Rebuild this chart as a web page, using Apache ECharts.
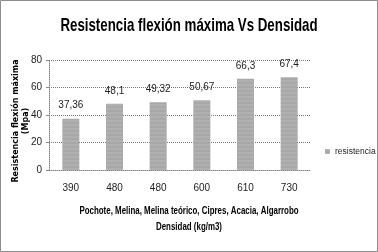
<!DOCTYPE html>
<html><head><meta charset="utf-8">
<script src="https://cdn.jsdelivr.net/npm/echarts@6/dist/echarts.min.js"></script>
<style>html,body{margin:0;padding:0;background:#fff}#c{width:378px;height:252px}</style>
</head><body><div id="c"></div>
<script>
const categories = ['390','480','480','600','610','730'];
const values = [37.36, 48.1, 49.32, 50.67, 66.3, 67.4];
const valueLabels = ['37,36','48,1','49,32','50,67','66,3','67,4'];
const yTicks = [0, 20, 40, 60, 80];
const seriesName = 'resistencia';
const titleText = 'Resistencia flexión máxima Vs Densidad';
const xTitleLines = ['Pochote, Melina, Melina teórico, Cipres, Acacia, Algarrobo', 'Densidad (kg/m3)'];
const yTitleLines = ['Resistencia flexión máxima', '(Mpa)'];

const font = '"Liberation Sans", sans-serif';
const chart = echarts.init(document.getElementById('c'), null, {renderer: 'canvas'});
chart.setOption({
  animation: false,
  backgroundColor: '#fff',
  graphic: {elements: [
    {type: 'rect', shape: {x: 0.5, y: 0.5, width: 377, height: 251}, style: {fill: 'none', stroke: '#8c8c8c', lineWidth: 1}},
    {type: 'text', x: 189, y: 26, scaleX: 0.7, style: {text: titleText, x: 0, y: 0, align: 'center', verticalAlign: 'middle',
      font: 'bold 19px "Liberation Sans", sans-serif', fill: '#000'}},
    {type: 'text', x: 189, y: 211, scaleX: 0.72, style: {text: xTitleLines[0], x: 0, y: 0, align: 'center', verticalAlign: 'middle',
      font: 'bold 11px "Liberation Sans", sans-serif', fill: '#000'}},
    {type: 'text', x: 189, y: 227, scaleX: 0.72, style: {text: xTitleLines[1], x: 0, y: 0, align: 'center', verticalAlign: 'middle',
      font: 'bold 11px "Liberation Sans", sans-serif', fill: '#000'}},
    {type: 'text', x: 16, y: 121, rotation: Math.PI / 2, style: {text: yTitleLines[0], x: 0, y: 0, align: 'center', verticalAlign: 'middle',
      font: 'bold 8px "DejaVu Sans", sans-serif', fill: '#000'}},
    {type: 'text', x: 26, y: 121, rotation: Math.PI / 2, style: {text: yTitleLines[1], x: 0, y: 0, align: 'center', verticalAlign: 'middle',
      font: 'bold 8px "DejaVu Sans", sans-serif', fill: '#000'}}
  ]},
  grid: {left: 49, right: 67, top: 60, bottom: 82, containLabel: false},
  legend: {data: [seriesName], orient: 'vertical', left: 320, top: 142, itemWidth: 5, itemHeight: 5, itemGap: 4,
    textStyle: {fontFamily: font, fontSize: 8.5, color: '#222'}},
  xAxis: {type: 'category', data: categories,
    axisLine: {lineStyle: {color: '#888', type: 'dotted'}}, axisTick: {show: false},
    axisLabel: {fontFamily: font, fontSize: 10, color: '#222', margin: 13}},
  yAxis: {type: 'value', min: 0, max: 80, interval: 20,
    axisLine: {show: true, lineStyle: {color: '#888', type: 'dotted'}}, axisTick: {show: true, length: 3, lineStyle: {color: '#888'}},
    splitLine: {lineStyle: {color: '#777', type: 'dotted'}},
    axisLabel: {fontFamily: font, fontSize: 10, color: '#222', margin: 7,
      formatter: v => yTicks.includes(v) ? String(v) : ''}},
  series: [{name: seriesName, type: 'bar', data: values, barWidth: 17,
    itemStyle: {color: '#a8a8a8', decal: {symbol: 'rect', symbolSize: 0.5, dashArrayX: [1, 0], dashArrayY: [2, 2], color: 'rgba(255,255,255,0.35)', rotation: 0}},
    label: {show: true, position: 'top', distance: 8, fontFamily: font, fontSize: 10, color: '#222',
      formatter: p => valueLabels[p.dataIndex]}}]
});
</script></body></html>
